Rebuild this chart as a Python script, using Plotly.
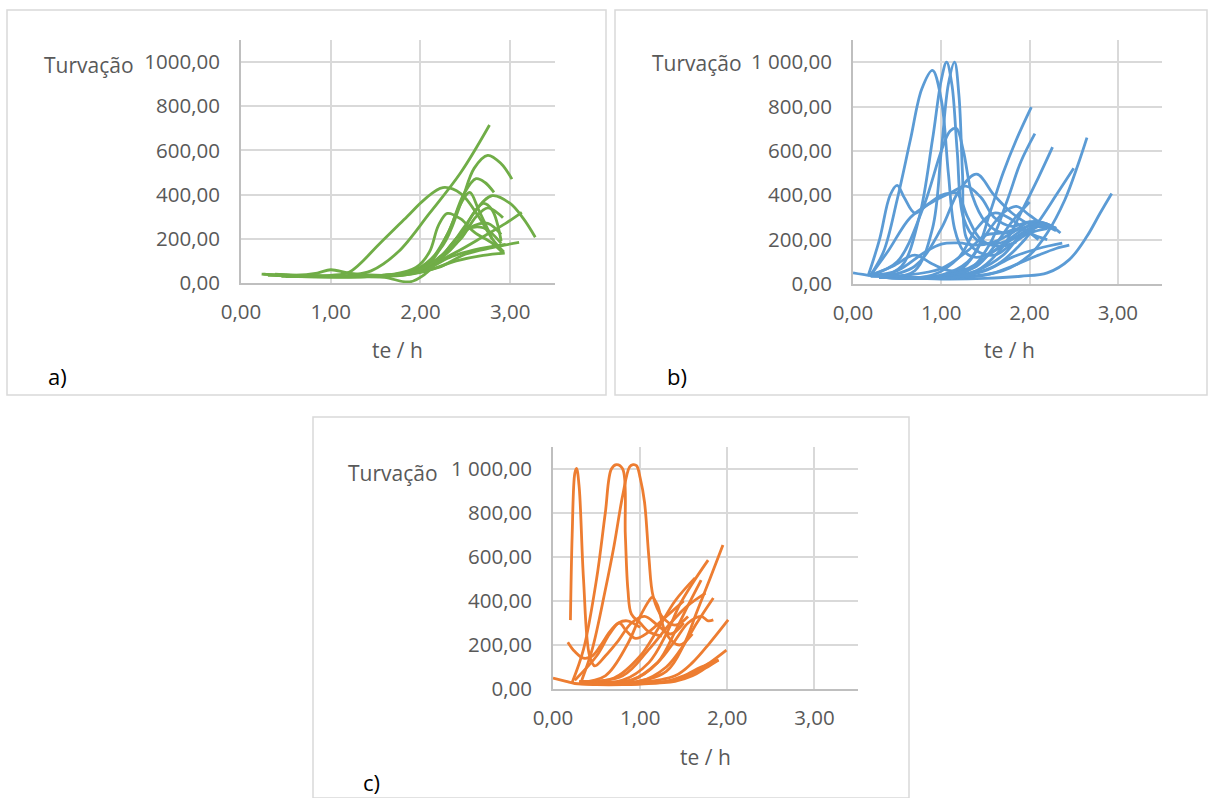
import plotly.graph_objects as go

W, H = 1208, 798

# ---- tick labels -------------------------------------------------------
x_ticks = [0, 1, 2, 3]
x_ticktext = ["0,00", "1,00", "2,00", "3,00"]
y_ticks = [0, 200, 400, 600, 800, 1000]
y_ticktext_a = ["0,00", "200,00", "400,00", "600,00", "800,00", "1000,00"]
y_ticktext_bc = ["0,00", "200,00", "400,00", "600,00", "800,00", "1 000,00"]

# ---- series a) : te (h) and turbidity per run --------------------------
te_a = [
    [0.38, 0.8, 1.2, 1.45, 1.75, 2.1, 2.45, 2.77],
    [0.25, 0.7, 1.0, 1.21, 1.55, 1.85, 2.05, 2.25, 2.45, 2.65, 2.8, 2.93],
    [0.4, 1.0, 1.6, 1.95, 2.25, 2.45, 2.6, 2.75, 2.9, 3.02],
    [0.45, 1.1, 1.7, 2.05, 2.3, 2.48, 2.62, 2.72, 2.82],
    [0.5, 1.2, 1.8, 2.15, 2.4, 2.6, 2.8, 3.0, 3.15, 3.28],
    [0.5, 1.3, 1.8, 2.1, 2.3, 2.45, 2.55, 2.65, 2.8],
    [0.6, 1.4, 1.9, 2.2, 2.45, 2.62, 2.75, 2.85, 2.92],
    [0.4, 1.2, 1.7, 1.95, 2.1, 2.2, 2.3, 2.45, 2.6, 2.8, 2.92],
    [0.5, 1.3, 1.8, 2.1, 2.4, 2.7, 2.95, 3.13],
    [0.4, 1.2, 1.8, 2.1, 2.4, 2.7, 2.94],
    [0.45, 1.3, 1.85, 2.1, 2.35, 2.6, 2.95],
    [0.5, 1.4, 1.9, 2.2, 2.5, 2.8, 3.1],
    [0.38, 0.9, 1.3, 1.6, 1.88, 2.05, 2.2, 2.4, 2.6, 2.75, 2.9],
    [0.23, 0.6, 0.85, 1.0, 1.2, 1.5, 1.8, 2.05, 2.3, 2.5, 2.7, 2.8, 2.9],
    [0.3, 1.0, 1.6, 2.0, 2.25, 2.5, 2.7, 2.9],
]
turb_a = [
    [38, 30, 35, 55, 140, 315, 500, 715],
    [40, 32, 35, 50, 180, 300, 380, 432, 405, 300, 200, 140],
    [35, 30, 32, 60, 170, 360, 520, 578, 540, 470],
    [35, 28, 35, 80, 220, 400, 472, 455, 410],
    [35, 30, 40, 90, 180, 320, 395, 360, 290, 207],
    [30, 30, 40, 90, 220, 360, 410, 330, 200],
    [30, 32, 50, 110, 200, 300, 340, 320, 295],
    [35, 30, 40, 70, 140, 260, 315, 290, 230, 180, 135],
    [30, 28, 40, 80, 140, 210, 270, 320],
    [35, 30, 35, 60, 100, 125, 135],
    [30, 28, 40, 70, 120, 150, 175],
    [30, 30, 40, 70, 130, 160, 184],
    [40, 30, 30, 25, 5, 40, 100, 200, 260, 270, 220],
    [40, 35, 45, 60, 45, 35, 40, 70, 150, 260, 360, 330, 190],
    [35, 30, 35, 60, 130, 240, 250, 180],
]

# ---- series b) ---------------------------------------------------------
te_b = [
    [0.0, 0.2, 0.6, 1.0, 1.5, 1.9, 2.2, 2.45, 2.65, 2.8, 2.93],
    [0.17, 0.3, 0.42, 0.5, 0.58, 0.7, 0.85, 1.0, 1.1, 1.18, 1.3, 1.45, 1.65, 1.85],
    [0.2, 0.35, 0.5, 0.65, 0.78, 0.9, 1.0, 1.08, 1.15, 1.25, 1.4, 1.6, 1.8, 2.0, 2.1],
    [0.3, 0.55, 0.75, 0.9, 1.0, 1.06, 1.12, 1.18, 1.25, 1.4, 1.6, 1.9, 2.1],
    [0.4, 0.7, 0.9, 1.0, 1.08, 1.15, 1.2, 1.24, 1.28, 1.4, 1.6, 1.8, 2.0, 2.2],
    [0.2, 0.5, 0.8, 1.0, 1.1, 1.17, 1.25, 1.35, 1.5, 1.7, 1.9, 2.1, 2.3],
    [0.2, 0.4, 0.65, 0.9, 1.1, 1.28, 1.45, 1.6, 1.8, 2.0, 2.25],
    [0.3, 0.7, 1.0, 1.2, 1.4, 1.6, 1.8, 2.0, 2.22],
    [0.2, 0.45, 0.7, 0.9, 1.1, 1.3, 1.5, 1.7, 1.9, 2.1, 2.3],
    [0.2, 0.5, 0.8, 1.0, 1.2, 1.4, 1.6, 1.8, 2.0, 2.2, 2.35],
    [0.3, 0.8, 1.2, 1.4, 1.55, 1.7, 1.85, 2.02],
    [0.3, 0.9, 1.3, 1.55, 1.75, 1.9, 2.06],
    [0.4, 1.0, 1.4, 1.7, 1.9, 2.1, 2.26],
    [0.4, 1.2, 1.7, 2.0, 2.2, 2.4, 2.55, 2.65],
    [0.4, 1.1, 1.6, 1.9, 2.1, 2.3, 2.5],
    [0.3, 1.0, 1.3, 1.5, 1.7, 1.85, 2.0, 2.15, 2.3],
    [0.3, 1.0, 1.4, 1.6, 1.8, 2.0],
    [0.3, 1.0, 1.4, 1.7, 1.9, 2.1, 2.3],
    [0.3, 1.0, 1.5, 1.8, 2.1, 2.3, 2.45],
    [0.3, 1.1, 1.5, 1.8, 2.1, 2.37],
    [0.3, 0.9, 1.2, 1.4, 1.6, 1.8, 2.0, 2.2],
    [0.2, 0.6, 1.0, 1.3, 1.5, 1.7, 1.9, 2.1],
]
turb_b = [
    [50, 38, 28, 22, 25, 35, 50, 110, 215, 320, 408],
    [35, 200, 400, 445, 390, 320, 360, 400, 410, 409, 300, 200, 170, 190],
    [40, 150, 380, 650, 880, 963, 830, 500, 250, 150, 120, 150, 200, 250, 270],
    [30, 80, 300, 650, 920, 1000, 900, 600, 300, 200, 180, 220, 260],
    [30, 60, 250, 600, 900, 1000, 850, 500, 212, 150, 130, 180, 230, 250],
    [40, 100, 350, 600, 690, 702, 600, 400, 280, 230, 250, 270, 240],
    [40, 150, 300, 370, 410, 441, 390, 300, 260, 280, 250],
    [30, 80, 250, 420, 495, 400, 320, 270, 252],
    [40, 80, 130, 90, 60, 70, 120, 180, 240, 280, 250],
    [40, 60, 140, 180, 185, 175, 190, 230, 280, 270, 230],
    [30, 30, 60, 150, 320, 500, 650, 797],
    [30, 30, 60, 180, 380, 550, 678],
    [30, 30, 60, 170, 320, 480, 617],
    [30, 30, 60, 130, 230, 380, 540, 660],
    [30, 30, 80, 180, 280, 400, 522],
    [30, 40, 100, 220, 320, 350, 310, 270, 250],
    [30, 35, 80, 170, 280, 370],
    [30, 30, 60, 130, 220, 270, 252],
    [30, 25, 40, 80, 130, 160, 175],
    [30, 28, 60, 120, 160, 184],
    [30, 40, 120, 250, 320, 290, 230, 200],
    [35, 40, 70, 150, 220, 230, 250, 200],
]

# ---- series c) ---------------------------------------------------------
te_c = [
    [0.0, 0.15, 0.25, 0.5, 0.8, 1.1, 1.3, 1.5, 1.7, 1.9],
    [0.2, 0.22, 0.25, 0.27, 0.3, 0.35, 0.42, 0.48, 0.6, 0.75, 0.9, 1.05, 1.2, 1.35, 1.5],
    [0.22, 0.35, 0.5, 0.6, 0.67, 0.73, 0.8, 0.83, 0.86, 0.9, 1.0, 1.1, 1.25],
    [0.33, 0.45, 0.6, 0.7, 0.8, 0.88, 0.92, 0.96, 1.0, 1.05, 1.1, 1.15, 1.25, 1.4, 1.55],
    [0.17, 0.25, 0.35, 0.45, 0.55, 0.65, 0.75, 0.85, 1.0],
    [0.3, 0.6, 0.85, 1.0, 1.1, 1.14, 1.2, 1.3, 1.45, 1.6],
    [0.25, 0.5, 0.65, 0.76, 0.85, 0.95, 1.1, 1.3, 1.5],
    [0.3, 0.9, 1.3, 1.5, 1.65, 1.8, 1.95],
    [0.3, 0.8, 1.1, 1.3, 1.45, 1.6, 1.78],
    [0.3, 0.7, 1.0, 1.2, 1.4, 1.63],
    [0.3, 0.9, 1.2, 1.4, 1.55, 1.7],
    [0.35, 1.0, 1.3, 1.5, 1.65, 1.84],
    [0.3, 0.8, 1.1, 1.35, 1.55, 1.75],
    [0.3, 0.9, 1.2, 1.4, 1.55, 1.7, 1.78, 1.84],
    [0.3, 1.0, 1.4, 1.6, 1.8, 2.01],
    [0.3, 1.0, 1.4, 1.6, 1.8, 1.99],
    [0.3, 1.0, 1.4, 1.6, 1.75, 1.9],
]
turb_c = [
    [50, 35, 25, 20, 20, 25, 35, 60, 100, 132],
    [313, 700, 980, 1003, 920, 500, 150, 105, 150, 220, 300, 330, 290, 250, 300],
    [30, 180, 500, 800, 1000, 1020, 1000, 700, 450, 340, 300, 260, 240],
    [40, 180, 450, 650, 880, 1010, 1020, 1015, 960, 850, 600, 420, 330, 290, 330],
    [213, 170, 140, 150, 200, 260, 300, 310, 280],
    [30, 60, 200, 330, 400, 418, 380, 250, 200, 250],
    [40, 150, 250, 300, 260, 230, 260, 330, 400],
    [30, 30, 80, 200, 350, 500, 654],
    [30, 40, 120, 250, 380, 480, 586],
    [35, 50, 150, 270, 400, 505],
    [30, 40, 120, 260, 380, 495],
    [30, 35, 100, 200, 300, 414],
    [30, 60, 180, 300, 380, 436],
    [30, 40, 120, 220, 300, 330, 310, 314],
    [30, 30, 60, 120, 210, 314],
    [25, 25, 40, 70, 120, 177],
    [25, 25, 35, 60, 95, 132],
]

GREEN, BLUE, ORANGE = "#70AD47", "#5B9BD5", "#ED7D31"
GRID, AXIS, TEXT = "#d9d9d9", "#bfbfbf", "#595959"
FONT = "Open Sans"
TICK_SIZE = 20.5
TITLE_SIZE = 21


def px_x(p):
    return p / W


def px_y(p):
    return 1 - p / H


fig = go.Figure()

panels = [
    # suffix, te, turb, colour, plot box (left, right, top, bottom) in px, y tick text
    ("", te_a, turb_a, GREEN, (241, 555, 40, 283), y_ticktext_a),
    ("2", te_b, turb_b, BLUE, (853, 1162, 40, 284), y_ticktext_bc),
    ("3", te_c, turb_c, ORANGE, (553, 858, 447, 689), y_ticktext_bc),
]

for suf, xs, ys, col, box, ytext in panels:
    for x, y in zip(xs, ys):
        fig.add_trace(go.Scatter(
            x=x, y=y, mode="lines", xaxis="x" + suf, yaxis="y" + suf,
            line=dict(color=col, width=2.8, shape="spline", smoothing=1.0),
            showlegend=False, hoverinfo="skip"))
    l, r, t, b = box
    fig.layout["xaxis" + suf] = dict(
        domain=[px_x(l), px_x(r)], range=[0, 3.5], anchor="y" + suf,
        tickvals=x_ticks, ticktext=x_ticktext, showgrid=True,
        gridcolor=GRID, gridwidth=2, showline=True, linecolor=AXIS,
        linewidth=2, zeroline=False, ticks="", ticklabelstandoff=9,
        automargin=False,
        tickfont=dict(family=FONT, size=TICK_SIZE, color=TEXT), fixedrange=True)
    fig.layout["yaxis" + suf] = dict(
        domain=[px_y(b), px_y(t)], range=[0, 1100], anchor="x" + suf,
        tickvals=y_ticks, ticktext=ytext, showgrid=True,
        gridcolor=GRID, gridwidth=2, showline=True, linecolor=AXIS,
        linewidth=2, zeroline=False, ticks="", ticklabelstandoff=15,
        automargin=False,
        tickfont=dict(family=FONT, size=TICK_SIZE, color=TEXT), fixedrange=True)

# frames around each chart
frames = [(7, 10, 606, 395), (615, 10, 1207, 395), (313, 417, 909, 798)]
shapes = []
for x0, y0, x1, y1 in frames:
    shapes.append(dict(type="rect", xref="paper", yref="paper",
                       x0=px_x(x0), x1=px_x(x1), y0=px_y(y1), y1=px_y(y0),
                       line=dict(color=GRID, width=1.5), layer="below"))

annotations = []


def label(text, cx, cy, size, color):
    annotations.append(dict(text=text, x=px_x(cx), y=px_y(cy),
                            xref="paper", yref="paper", showarrow=False,
                            xanchor="center", yanchor="middle",
                            font=dict(family=FONT, size=size, color=color)))


# axis titles and panel letters
for (tx, ty), (hx, hy), (lx, ly, lab) in [
        ((89, 65), (397, 350), (57, 376, "a)")),
        ((697, 63), (1009, 350), (677, 376, "b)")),
        ((393, 473), (705, 757), (371, 782, "c)"))]:
    label("Turvação", tx, ty, TITLE_SIZE, TEXT)
    label("te / h", hx, hy, TITLE_SIZE, TEXT)
    label(lab, lx, ly, 22, "#000000")

fig.update_layout(width=W, height=H, margin=dict(l=0, r=0, t=0, b=0, pad=0),
                  paper_bgcolor="white", plot_bgcolor="white",
                  shapes=shapes, annotations=annotations)

fig.write_html("out.html")
